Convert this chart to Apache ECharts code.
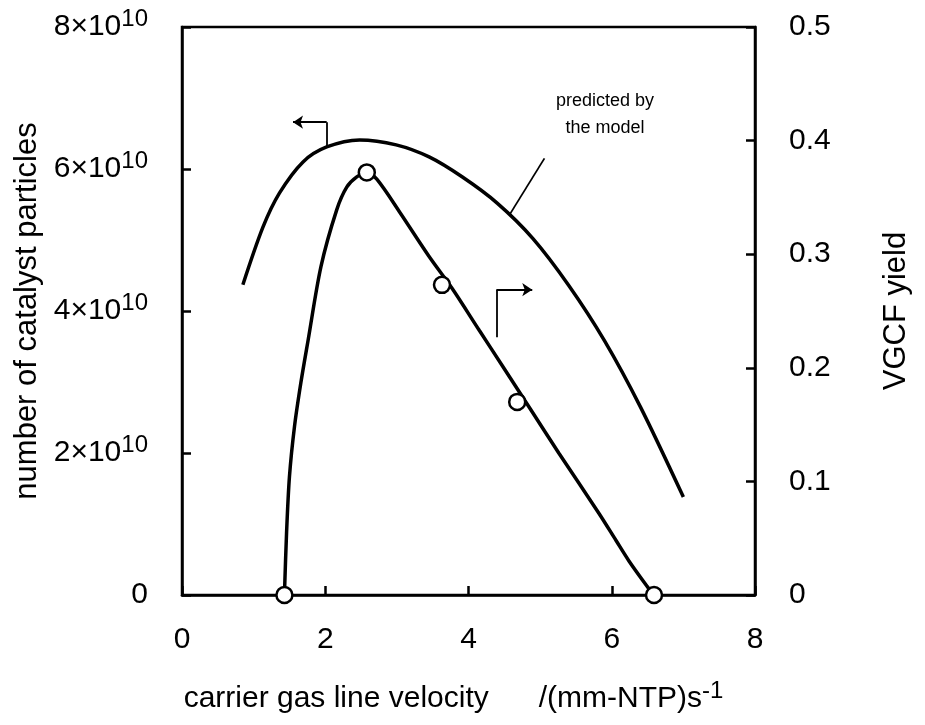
<!DOCTYPE html>
<html>
<head>
<meta charset="utf-8">
<script src="https://cdn.jsdelivr.net/npm/echarts@6/dist/echarts.min.js"></script>
<style>html,body{margin:0;padding:0;background:#fff}#c{width:925px;height:725px}</style>
</head>
<body>
<div id="c"></div>
<script>
// ---- data ----
var xTicks = [0, 2, 4, 6, 8];
var leftTicks = [0, 2e10, 4e10, 6e10, 8e10];
var rightTicks = [0, 0.1, 0.2, 0.3, 0.4, 0.5];

// model prediction: number of catalyst particles (left axis)
var modelX = [0.85, 1.13, 1.36, 1.69, 2.02, 2.48, 2.99, 3.45, 3.91, 4.40, 4.90, 5.40, 5.90, 6.40, 7.00];
var modelY = [4.37e10, 5.18e10, 5.66e10, 6.10e10, 6.31e10, 6.41e10, 6.34e10, 6.17e10, 5.89e10, 5.52e10, 5.02e10, 4.36e10, 3.58e10, 2.65e10, 1.38e10];

// VGCF yield curve (right axis)
var yieldCurveX = [1.43, 1.46, 1.50, 1.57, 1.66, 1.76, 1.94, 2.16, 2.30, 2.44, 2.58, 2.72, 3.04, 3.45, 3.77, 4.15, 4.47, 4.85, 5.26, 5.82, 6.06, 6.24, 6.49, 6.59];
var yieldCurveY = [0, 0.055, 0.104, 0.148, 0.187, 0.224, 0.289, 0.339, 0.359, 0.368, 0.372, 0.366, 0.337, 0.298, 0.270, 0.233, 0.202, 0.165, 0.125, 0.072, 0.048, 0.030, 0.008, 0];

// measured VGCF yield points (right axis)
var yieldPtsX = [1.43, 2.58, 3.63, 4.68, 6.59];
var yieldPtsY = [0, 0.372, 0.273, 0.170, 0];

// annotation arrows (left-axis data coordinates): stem + head segment
var arrowLeftStem = [[2.02, 6.31e10], [2.02, 6.66e10]];
var arrowLeftHead = [[2.02, 6.66e10], [1.55, 6.66e10]];
var arrowRightStem = [[4.39, 3.63e10], [4.39, 4.30e10]];
var arrowRightHead = [[4.39, 4.30e10], [4.89, 4.30e10]];
var leader = [[5.06, 6.15e10], [4.57, 5.35e10]];
var noteText = 'predicted by\nthe model';

function zip(a, b) { return a.map(function (v, i) { return [v, b[i]]; }); }

var FONT = '"Liberation Sans", Arial, sans-serif';
var TICK = 30, NAME = 31;
var supStyle = { fontSize: 24, fontFamily: FONT, color: '#000', padding: [0, 0, 15, 0] };
var axisLineStyle = { color: '#000', width: 2.5 };
var chart = echarts.init(document.getElementById('c'));
chart.setOption({
  animation: false,
  backgroundColor: '#fff',
  grid: { left: 182, right: 170, top: 27, bottom: 130, show: true, borderColor: '#000', borderWidth: 2.5, backgroundColor: 'transparent' },
  xAxis: {
    type: 'value', min: xTicks[0], max: xTicks[xTicks.length - 1], interval: 2,
    axisLine: { lineStyle: axisLineStyle },
    axisTick: { inside: true, length: 9, lineStyle: axisLineStyle },
    splitLine: { show: false },
    axisLabel: { color: '#000', fontSize: TICK, fontFamily: FONT, margin: 30 },
    name: 'carrier gas line velocity      /(mm-NTP)s{sup|-1}',
    nameLocation: 'middle', nameGap: 84,
    nameTextStyle: { color: '#000', fontSize: 30, fontFamily: FONT, padding: [0, 30, 0, 0],
      rich: { sup: supStyle } }
  },
  yAxis: [{
    type: 'value', min: leftTicks[0], max: leftTicks[leftTicks.length - 1], interval: 2e10,
    position: 'left',
    axisLine: { lineStyle: axisLineStyle },
    axisTick: { inside: true, length: 9, lineStyle: axisLineStyle },
    splitLine: { show: false },
    axisLabel: { color: '#000', fontSize: TICK, fontFamily: FONT, margin: 34,
      formatter: function (v) { return v === 0 ? '0' : (v / 1e10) + '×10{sup|10}'; },
      rich: { sup: supStyle } },
    name: 'number of catalyst particles', nameLocation: 'middle', nameGap: 135,
    nameTextStyle: { color: '#000', fontSize: NAME, fontFamily: FONT }
  }, {
    type: 'value', min: rightTicks[0], max: rightTicks[rightTicks.length - 1], interval: 0.1,
    position: 'right',
    axisLine: { lineStyle: axisLineStyle },
    axisTick: { inside: true, length: 9, lineStyle: axisLineStyle },
    splitLine: { show: false },
    axisLabel: { color: '#000', fontSize: TICK, fontFamily: FONT, margin: 34,
      formatter: function (v) { return v === 0 ? '0' : v.toFixed(1); } },
    name: 'VGCF yield', nameLocation: 'middle', nameGap: 126,
    nameTextStyle: { color: '#000', fontSize: NAME, fontFamily: FONT }
  }],
  graphic: [{
    type: 'text', x: 605, y: 88,
    style: { text: noteText, fill: '#000', font: '18px ' + FONT, align: 'center', verticalAlign: 'top', lineHeight: 27 }
  }],
  series: [{
    type: 'line', yAxisIndex: 0, data: zip(modelX, modelY), smooth: 0.3,
    showSymbol: false, lineStyle: { color: '#000', width: 3.5 }
  }, {
    type: 'line', yAxisIndex: 1, data: zip(yieldCurveX, yieldCurveY), smooth: 0.3,
    showSymbol: false, lineStyle: { color: '#000', width: 3.5 }, z: 2
  }, {
    type: 'scatter', yAxisIndex: 1, data: zip(yieldPtsX, yieldPtsY), symbol: 'circle', symbolSize: 16,
    itemStyle: { color: '#fff', borderColor: '#000', borderWidth: 2.5, opacity: 1 }, z: 5
  }, {
    type: 'lines', coordinateSystem: 'cartesian2d', xAxisIndex: 0, yAxisIndex: 0,
    symbol: ['none', 'arrow'], symbolSize: 10,
    lineStyle: { color: '#000', width: 1.8, opacity: 1 },
    data: [{ coords: arrowLeftHead }, { coords: arrowRightHead }]
  }, {
    type: 'lines', coordinateSystem: 'cartesian2d', xAxisIndex: 0, yAxisIndex: 0,
    symbol: ['none', 'none'],
    lineStyle: { color: '#000', width: 1.8, opacity: 1 },
    data: [{ coords: arrowLeftStem }, { coords: arrowRightStem }, { coords: leader }]
  }]
});
</script>
</body>
</html>
